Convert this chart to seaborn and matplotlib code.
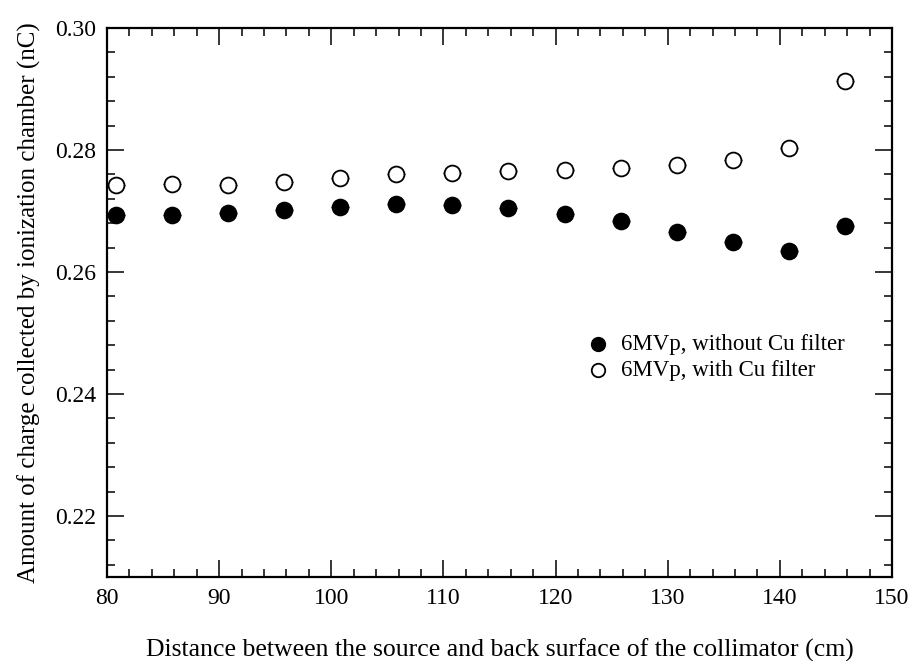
import numpy as np
import pandas as pd
import matplotlib
matplotlib.use("Agg")
import matplotlib.pyplot as plt
from matplotlib.ticker import MultipleLocator
import seaborn as sns

# values
distance = [80.8, 85.8, 90.8, 95.8, 100.8, 105.8, 110.8, 115.8, 120.8, 125.8, 130.8, 135.8, 140.8, 145.8]
charge_no_filter = [0.2693, 0.2693, 0.2697, 0.2702, 0.2707, 0.2712, 0.2710,
                    0.2705, 0.2695, 0.2684, 0.2666, 0.2649, 0.2634, 0.2675]
charge_cu_filter = [0.2743, 0.2744, 0.2743, 0.2748, 0.2754, 0.2761, 0.2762,
                    0.2766, 0.2767, 0.2770, 0.2775, 0.2784, 0.2803, 0.2913]
distance_err = [0.8] * len(distance)

label_no = "6MVp, without Cu filter"
label_cu = "6MVp, with Cu filter"

sns.set_theme(style="white")
plt.rcParams['font.family'] = ['Liberation Serif', 'DejaVu Serif']
plt.rcParams['text.color'] = 'black'
plt.rcParams['axes.labelcolor'] = 'black'
plt.rcParams['xtick.color'] = 'black'
plt.rcParams['ytick.color'] = 'black'

df = pd.DataFrame({
    'distance': distance * 2,
    'charge': charge_no_filter + charge_cu_filter,
    'series': [label_no] * len(distance) + [label_cu] * len(distance),
})

fig = plt.figure(figsize=(9.09, 6.61), dpi=100)
ax = fig.add_axes([0.1177, 0.1271, 0.8636, 0.8305])

# small horizontal error bars behind the markers
ax.errorbar(distance, charge_no_filter, xerr=distance_err, fmt='none', ecolor='black', elinewidth=1.0, zorder=1)
ax.errorbar(distance, charge_cu_filter, xerr=distance_err, fmt='none', ecolor='black', elinewidth=1.0, zorder=1)

sns.scatterplot(data=df[df.series == label_no], x='distance', y='charge', ax=ax,
                color='black', edgecolor='black', s=130, linewidth=1.3, label=label_no, zorder=3)
sns.scatterplot(data=df[df.series == label_cu], x='distance', y='charge', ax=ax,
                facecolor='white', edgecolor='black', s=130, linewidth=1.3, label=label_cu, zorder=3)

ax.set_xlim(80, 150)
ax.set_ylim(0.21, 0.30)
ax.xaxis.set_major_locator(MultipleLocator(10))
ax.xaxis.set_minor_locator(MultipleLocator(2))
ax.yaxis.set_major_locator(MultipleLocator(0.02))
ax.yaxis.set_minor_locator(MultipleLocator(0.004))
ax.yaxis.set_major_formatter(matplotlib.ticker.FormatStrFormatter('%.2f'))

ax.tick_params(which='both', direction='in', top=True, right=True, bottom=True, left=True,
               color='black', width=1.1, labelsize=17, pad=8)
ax.tick_params(which='major', length=12)
ax.tick_params(which='minor', length=6)
for sp in ax.spines.values():
    sp.set_color('black')
    sp.set_linewidth(1.6)

ax.set_xlabel('Distance between the source and back surface of the collimator (cm)', fontsize=18.5, labelpad=21)
ax.set_ylabel('Amount of charge collected by ionization chamber (nC)', fontsize=18, labelpad=10)

ax.legend(loc='center left', bbox_to_anchor=(0.57, 0.40), frameon=False, fontsize=16.5,
          handletextpad=0.0, labelspacing=0.2, markerscale=0.85)

fig.savefig('out.png', dpi=100)
